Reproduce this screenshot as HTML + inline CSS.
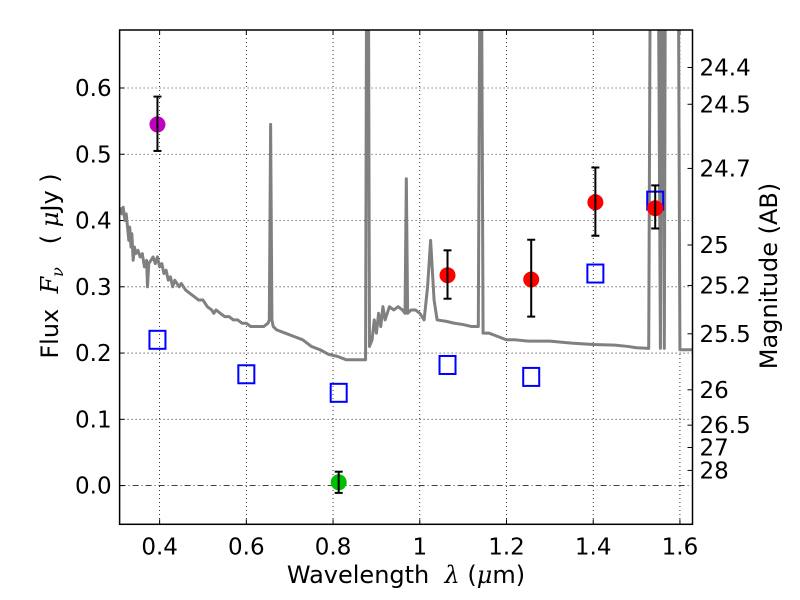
<!DOCTYPE html>
<html><head><meta charset="utf-8"><style>
body{margin:0;background:#fff}
svg{display:block;font-family:"DejaVu Sans","Liberation Sans",sans-serif}
text{white-space:pre}
</style></head><body>
<svg id="c" width="800" height="600" viewBox="0 0 800 600"></svg>
<script>
const xTicks=[0.4,0.6,0.8,1.0,1.2,1.4,1.6];
const xTickLabels=["0.4","0.6","0.8","1","1.2","1.4","1.6"];
const yTicks=[0,0.1,0.2,0.3,0.4,0.5,0.6];
const yTickLabels=["0.0","0.1","0.2","0.3","0.4","0.5","0.6"];
const magTicks=[24.4,24.5,24.7,25,25.2,25.5,26,26.5,27,28];
const magLabels=["24.4","24.5","24.7","25","25.2","25.5","26","26.5","27","28"];
// spectrum as [wavelength, flux] pairs
const spectrum=[
[0.310,0.42],[0.313,0.41],[0.316,0.42],[0.320,0.40],[0.323,0.41],[0.326,0.39],[0.329,0.37],[0.331,0.39],[0.334,0.36],[0.336,0.38],
[0.339,0.34],[0.342,0.36],[0.345,0.35],[0.350,0.355],[0.355,0.345],[0.360,0.35],[0.365,0.33],[0.370,0.34],[0.372,0.30],[0.375,0.335],
[0.380,0.34],[0.385,0.345],[0.390,0.335],[0.395,0.345],[0.400,0.33],[0.405,0.335],[0.410,0.32],[0.415,0.325],[0.420,0.31],[0.425,0.315],
[0.430,0.30],[0.435,0.31],[0.440,0.305],[0.445,0.30],[0.450,0.305],[0.460,0.295],[0.470,0.29],[0.480,0.285],[0.490,0.28],[0.500,0.28],
[0.510,0.27],[0.520,0.265],[0.525,0.26],[0.530,0.265],[0.540,0.26],[0.550,0.255],[0.560,0.255],[0.570,0.25],[0.580,0.25],[0.590,0.245],
[0.600,0.245],[0.610,0.24],[0.620,0.24],[0.640,0.24],[0.650,0.245],[0.653,0.25],[0.656,0.545],[0.659,0.25],[0.662,0.24],[0.670,0.235],
[0.690,0.23],[0.710,0.225],[0.730,0.22],[0.750,0.21],[0.770,0.205],[0.790,0.198],[0.810,0.195],[0.830,0.19],[0.850,0.19],[0.875,0.19],
[0.877,0.69],[0.882,0.69],[0.884,0.21],[0.890,0.22],[0.895,0.25],[0.900,0.23],[0.905,0.26],[0.910,0.24],[0.915,0.27],[0.920,0.25],
[0.930,0.27],[0.940,0.265],[0.950,0.27],[0.960,0.265],[0.966,0.26],[0.969,0.463],[0.972,0.26],[0.980,0.265],[0.990,0.265],[1.000,0.26],
[1.010,0.25],[1.018,0.30],[1.025,0.37],[1.033,0.28],[1.040,0.25],[1.060,0.248],[1.080,0.245],[1.100,0.243],[1.120,0.24],[1.135,0.24],
[1.138,0.69],[1.143,0.69],[1.146,0.23],[1.160,0.23],[1.180,0.225],[1.200,0.22],[1.220,0.22],[1.250,0.218],[1.300,0.218],[1.350,0.215],
[1.400,0.213],[1.450,0.212],[1.480,0.21],[1.500,0.208],[1.528,0.207],[1.531,0.69],[1.545,0.69],[1.551,0.69],[1.555,0.207],[1.558,0.69],
[1.562,0.69],[1.564,0.207],[1.566,0.69],[1.597,0.69],[1.600,0.205],[1.630,0.205]];
const photX=[1.064,1.257,1.405,1.543];
const photY=[0.3175,0.311,0.4276,0.4186];
const photHi=[0.355,0.371,0.480,0.453];
const photLo=[0.282,0.255,0.377,0.388];
const uX=[0.395], uY=[0.545], uHi=[0.587], uLo=[0.505];
const gX=[0.813], gY=[0.005], gHi=[0.021], gLo=[-0.011];
const modX=[0.395,0.6,0.813,1.064,1.257,1.405,1.543];
const modY=[0.22,0.168,0.14,0.182,0.164,0.32,0.43];

const L=119.6,R=692.5,T=30,B=524.3,X0=0.3077,X1=1.629,Y0=-0.0584,Y1=0.6875;
const sx=v=>L+(v-X0)/(X1-X0)*(R-L);
const sy=v=>B-(v-Y0)/(Y1-Y0)*(B-T);
const svg=document.getElementById('c');
const NS='http://www.w3.org/2000/svg';
function mk(t,a,p){const e=document.createElementNS(NS,t);for(const k in a)e.setAttribute(k,a[k]);(p||svg).appendChild(e);return e;}
const clip=mk('clipPath',{id:'pc'});mk('rect',{x:L,y:T,width:R-L,height:B-T},clip);
xTicks.forEach((v,i)=>{
 const g=mk('line',{x1:sx(v),x2:sx(v),y1:T,y2:B,stroke:'#000','stroke-width':0.8,'stroke-dasharray':'1,3'});
 
 mk('line',{x1:sx(v),x2:sx(v),y1:B,y2:B-5,stroke:'#000'});mk('line',{x1:sx(v),x2:sx(v),y1:T,y2:T+5,stroke:'#000'});
 const t=mk('text',{x:sx(v),y:B+30,'text-anchor':'middle','font-size':23});t.textContent=xTickLabels[i];
 
});
yTicks.forEach((v,i)=>{
 const g=mk('line',{x1:L,x2:R,y1:sy(v),y2:sy(v),stroke:'#000','stroke-width':0.8,'stroke-dasharray':v===0?'6,3,1,3':'1,3'});
 
 mk('line',{x1:L,x2:L+5,y1:sy(v),y2:sy(v),stroke:'#000'});
 const t=mk('text',{x:L-8,y:sy(v)+8,'text-anchor':'end','font-size':23});t.textContent=yTickLabels[i];
 
});
magTicks.forEach((m,i)=>{
 const f=Math.pow(10,(23.9-m)/2.5);const y=sy(f);
 mk('line',{x1:R,x2:R-5,y1:y,y2:y,stroke:'#000'});
 const t=mk('text',{x:R+7,y:y+8,'font-size':23});t.textContent=magLabels[i];
 
});
const sp=mk('polyline',{points:spectrum.map(p=>sx(p[0])+','+sy(p[1])).join(' '),fill:'none',stroke:'#808080','stroke-width':3,'clip-path':'url(#pc)','stroke-linejoin':'round'});

modX.forEach((x,i)=>{
 const s=mk('rect',{x:sx(x)-8,y:sy(modY[i])-9,width:16,height:18,fill:'none',stroke:'#0000ff','stroke-width':2});
 
});
function pts(X,Y,H,Lo,col,name){
 X.forEach((x,i)=>{
  const c=mk('circle',{cx:sx(x),cy:sy(Y[i]),r:8,fill:col});
  
  mk('line',{x1:sx(x),x2:sx(x),y1:sy(H[i]),y2:sy(Lo[i]),stroke:'#000','stroke-width':2});
  mk('line',{x1:sx(x)-4,x2:sx(x)+4,y1:sy(H[i]),y2:sy(H[i]),stroke:'#000','stroke-width':2});
  mk('line',{x1:sx(x)-4,x2:sx(x)+4,y1:sy(Lo[i]),y2:sy(Lo[i]),stroke:'#000','stroke-width':2});
 });
}
pts(uX,uY,uHi,uLo,'#bf00bf','u-band-point');
pts(gX,gY,gHi,gLo,'#00bf00','green-point');
pts(photX,photY,photHi,photLo,'#ff0000','nir-point');
mk('rect',{x:L,y:T,width:R-L,height:B-T,fill:'none',stroke:'#000','stroke-width':1.5});
</script>
<svg style="position:absolute;left:0;top:0" width="800" height="600">
<text x="406" y="583" text-anchor="middle" font-size="24" font-family="DejaVu Sans,sans-serif">Wavelength  <tspan font-style="italic" font-family="DejaVu Serif,serif">λ</tspan> (<tspan font-style="italic" font-family="DejaVu Serif,serif">μ</tspan>m)</text>
<text transform="translate(58,266) rotate(-90)" text-anchor="middle" font-size="24" font-family="DejaVu Sans,sans-serif">Flux  <tspan font-style="italic" font-family="DejaVu Serif,serif">F</tspan><tspan font-style="italic" font-family="DejaVu Serif,serif" font-size="16" dy="5">ν</tspan><tspan dy="-5">   ( </tspan><tspan font-style="italic" font-family="DejaVu Serif,serif">μ</tspan>Jy )</text>
<text transform="translate(777,276) rotate(-90)" text-anchor="middle" font-size="24" font-family="DejaVu Sans,sans-serif">Magnitude (AB)</text>
</svg>
</body></html>
